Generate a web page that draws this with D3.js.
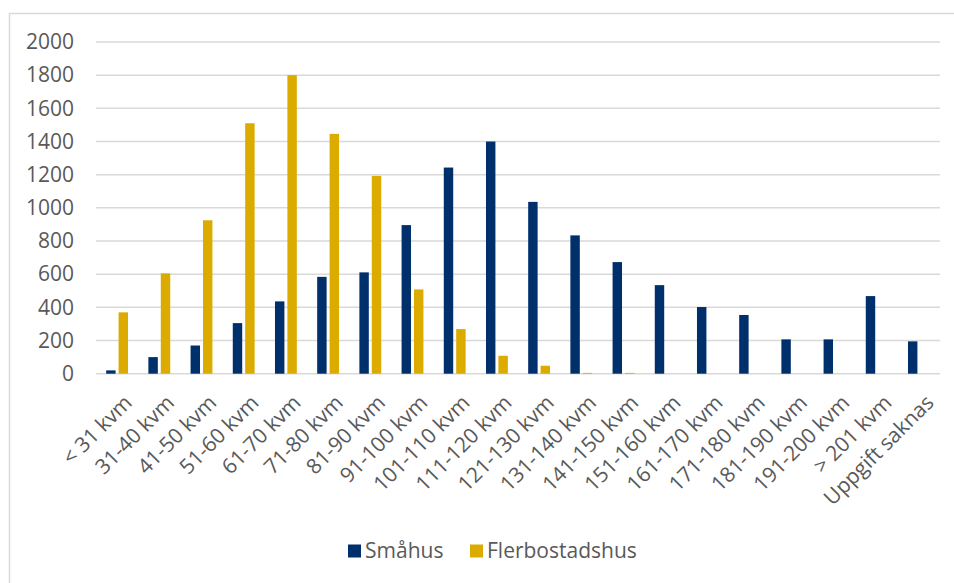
<!DOCTYPE html>
<html>
<head>
<meta charset="utf-8">
<script src="https://cdn.jsdelivr.net/npm/d3@7"></script>
<style>
  html, body { margin: 0; padding: 0; background: #fff; }
  svg { display: block; font-family: "Open Sans", "Noto Sans", sans-serif; }
</style>
</head>
<body>
<svg id="chart" width="954" height="583"></svg>
<script>
// Bostadsarea per hustyp
const categories = [
  '< 31 kvm', '31-40 kvm', '41-50 kvm', '51-60 kvm', '61-70 kvm', '71-80 kvm',
  '81-90 kvm', '91-100 kvm', '101-110 kvm', '111-120 kvm', '121-130 kvm',
  '131-140 kvm', '141-150 kvm', '151-160 kvm', '161-170 kvm', '171-180 kvm',
  '181-190 kvm', '191-200 kvm', '> 201 kvm', 'Uppgift saknas'
];
const smahus = [20, 100, 170, 305, 436, 584, 611, 896, 1243, 1400, 1036, 834, 673, 534, 402, 354, 207, 207, 468, 195];
const flerbostadshus = [370, 605, 925, 1510, 1800, 1446, 1193, 508, 269, 108, 48, 5, 5, 0, 0, 0, 0, 0, 0, 0];
const seriesNames = ['Småhus', 'Flerbostadshus'];
const seriesColors = ['#00306b', '#dbab00'];
const yTicks = [0, 200, 400, 600, 800, 1000, 1200, 1400, 1600, 1800, 2000];

const svg = d3.select('#chart');
const plot = { left: 96, right: 940, top: 42, bottom: 373.7 };

// outer chart frame (runs off the right/bottom edge like the source)
svg.append('rect')
  .attr('x', 9.5).attr('y', 13.5)
  .attr('width', 990).attr('height', 620)
  .attr('fill', 'none').attr('stroke', '#d9d9d9').attr('stroke-width', 1.5);

const x = d3.scaleBand().domain(categories).range([plot.left, plot.right]).padding(0);
const x1 = d3.scaleBand().domain(seriesNames).range([0, x.bandwidth()])
  .paddingInner(0.24).paddingOuter(0.82);
const y = d3.scaleLinear().domain([0, 2000]).range([plot.bottom, plot.top]);

// gridlines
svg.append('g').selectAll('line')
  .data(yTicks)
  .join('line')
    .attr('x1', plot.left).attr('x2', plot.right)
    .attr('y1', d => y(d)).attr('y2', d => y(d))
    .attr('stroke', '#d9d9d9').attr('stroke-width', 1.5);

// y labels
const yAxis = d3.axisLeft(y).tickValues(yTicks).tickFormat(d3.format('d')).tickSize(0).tickPadding(0);
const gy = svg.append('g').attr('transform', 'translate(74,0)').call(yAxis);
gy.select('.domain').remove();
gy.selectAll('text')
  .attr('fill', '#595959').attr('font-size', 21)
  .attr('font-family', '"Open Sans", "Noto Sans", sans-serif');

// bars
const rows = categories.map((c, i) => ({ cat: c, vals: [smahus[i], flerbostadshus[i]] }));
const groups = svg.append('g').selectAll('g')
  .data(rows)
  .join('g')
    .attr('transform', d => `translate(${x(d.cat)},0)`);
groups.selectAll('rect')
  .data(d => d.vals.map((v, j) => ({ name: seriesNames[j], v, j })))
  .join('rect')
    .attr('x', d => x1(d.name))
    .attr('width', x1.bandwidth())
    .attr('y', d => y(d.v))
    .attr('height', d => plot.bottom - y(d.v))
    .attr('fill', d => seriesColors[d.j]);

// x labels, rotated 45 degrees
const xAxis = d3.axisBottom(x).tickSize(0).tickPadding(0);
const gx = svg.append('g').attr('transform', `translate(0,${plot.bottom})`).call(xAxis);
gx.select('.domain').remove();
gx.selectAll('text')
  .attr('fill', '#595959').attr('font-size', 21)
  .attr('font-family', '"Open Sans", "Noto Sans", sans-serif')
  .attr('text-anchor', 'end')
  .attr('dy', '0.35em')
  .attr('transform', 'translate(11,25) rotate(-45)');

// legend
const legend = svg.append('g').attr('transform', 'translate(348,544.5)');
const legendX = [0, 122];
seriesNames.forEach((n, i) => {
  const g = legend.append('g').attr('transform', `translate(${legendX[i]},0)`);
  g.append('rect').attr('width', 13).attr('height', 13).attr('fill', seriesColors[i]);
  g.append('text').attr('x', 17).attr('y', 13)
    .attr('fill', '#595959').attr('font-size', 21)
    .text(n);
});
</script>
</body>
</html>
